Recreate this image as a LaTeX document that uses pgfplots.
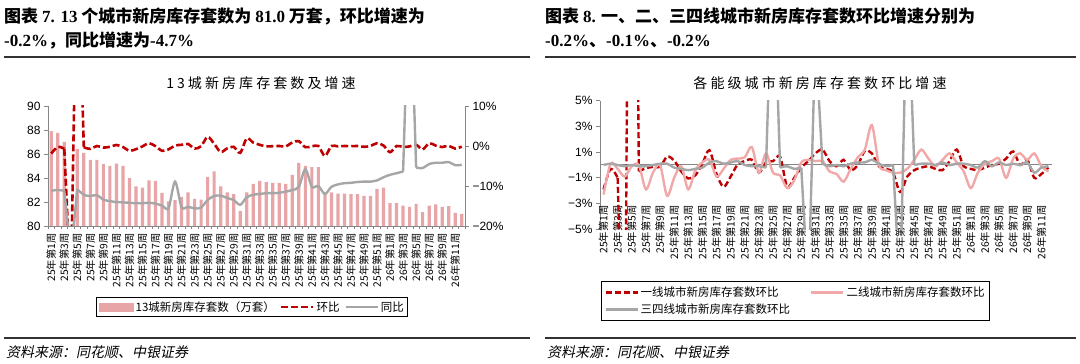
\documentclass[border=0pt]{standalone}
\usepackage{fontspec}
\usepackage{pgfplots}
\pgfplotsset{compat=1.18}
\setmainfont{Liberation Sans}
\newfontfamily\cjk{Noto Sans CJK SC}
\newfontfamily\cjkit[FakeSlant=0.2]{Noto Sans CJK SC}
\newfontfamily\cjksp[LetterSpace=22]{Noto Sans CJK SC}
\newfontfamily\tms{Liberation Serif}
\definecolor{barpink}{RGB}{232,165,167}
\definecolor{dred}{RGB}{192,0,0}
\definecolor{lgray}{RGB}{166,166,166}
\definecolor{pink2}{RGB}{240,168,168}
\definecolor{axgray}{RGB}{134,134,134}
\definecolor{rulegray}{RGB}{50,50,50}
\pgfplotsset{
  wk/.style={xtick={0,2,...,62},
    xticklabels={25年第1周,25年第3周,25年第5周,25年第7周,25年第9周,25年第11周,25年第13周,25年第15周,25年第17周,25年第19周,25年第21周,25年第23周,25年第25周,25年第27周,25年第29周,25年第31周,25年第33周,25年第35周,25年第37周,25年第39周,25年第41周,25年第43周,25年第45周,25年第47周,25年第49周,25年第51周,26年第1周,26年第3周,26年第5周,26年第7周,26年第9周,26年第11周},
    xticklabel style={rotate=90, anchor=east, font=\cjk\fontsize{10.3}{11}\selectfont},
    xtick style={draw=none}},
  lineleg/.style={legend image code/.code={\draw[##1] (0pt,0pt) -- (32pt,0pt);}},
}
\begin{document}
\begin{tikzpicture}[x=1pt,y=1pt]
\path[use as bounding box] (0,0) rectangle (1080,364);
% ---------- headings ----------
\node[anchor=west, inner sep=0] at (4,348) {\cjk\bfseries\fontsize{17}{20}\selectfont 图表 {\tms 7. 13} 个城市新房库存套数为 {\tms 81.0} 万套，环比增速为};
\node[anchor=west, inner sep=0] at (4,323) {\cjk\bfseries\fontsize{17}{20}\selectfont {\tms -0.2\%}，同比增速为{\tms -4.7\%}};
\node[anchor=west, inner sep=0] at (545,348) {\cjk\bfseries\fontsize{17}{20}\selectfont 图表 {\tms 8.} 一、二、三四线城市新房库存套数环比增速分别为};
\node[anchor=west, inner sep=0] at (545,323) {\cjk\bfseries\fontsize{17}{20}\selectfont {\tms -0.2\%}、{\tms -0.1\%}、{\tms -0.2\%}};
\draw[rulegray, line width=1.2pt] (4,307) -- (530,307);
\draw[rulegray, line width=1.2pt] (545,307) -- (1076,307);
\draw[rulegray, line width=1.2pt] (4,26) -- (530,26);
\draw[rulegray, line width=1.2pt] (545,26) -- (1076,26);
\node[anchor=west, inner sep=0] at (6,12) {\cjkit\fontsize{14}{16}\selectfont 资料来源：同花顺、中银证券};
\node[anchor=west, inner sep=0] at (547,12) {\cjkit\fontsize{14}{16}\selectfont 资料来源：同花顺、中银证券};
% ---------- chart titles ----------
\node at (261,281) {\cjksp\fontsize{14}{16}\selectfont 13城新房库存套数及增速};
\node at (820,281) {\cjksp\fontsize{14}{16}\selectfont 各能级城市新房库存套数环比增速};

% ---------- left chart: bars ----------
\begin{axis}[
  at={(48pt,138pt)}, anchor=south west, scale only axis,
  width=417pt, height=120pt,
  xmin=-0.5, xmax=63.5, ymin=80, ymax=90,
  axis y line*=left, axis x line*=bottom,
  axis line style={axgray, line width=0.8pt},
  ytick={80,82,...,90},
  /pgf/number format/assume math mode=true,
  yticklabel style={font=\fontsize{12}{14}\selectfont},
  ytick style={axgray, line width=0.8pt},
  tick align=outside, major tick length=4pt,
  wk,
  extra x ticks={-0.5,0.5,...,63.5}, extra x tick labels={},
  extra x tick style={xtick style={draw=axgray, line width=0.6pt}, major tick length=3pt},
]
\addplot[ybar, bar width=3.2pt, fill=barpink, draw=none] coordinates {
(0,87.9)(1,87.75)(2,87.0)(3,55.7)(4,86.4)(5,86.1)(6,85.5)(7,85.5)(8,85.15)(9,85.0)(10,85.2)(11,85.0)(12,84.0)(13,83.3)(14,83.2)(15,83.8)(16,83.75)(17,82.75)(18,82.05)(19,82.15)(20,82.4)(21,82.8)(22,82.25)(23,82.2)(24,84.1)(25,84.55)(26,83.3)(27,82.8)(28,82.65)(29,81.25)(30,82.8)(31,83.5)(32,83.75)(33,83.65)(34,83.6)(35,83.6)(36,83.5)(37,84.25)(38,85.25)(39,85.0)(40,84.9)(41,84.9)(42,82.8)(43,82.8)(44,82.7)(45,82.7)(46,82.65)(47,82.65)(48,82.5)(49,82.5)(50,83.1)(51,83.2)(52,81.9)(53,81.9)(54,81.7)(55,81.6)(56,81.85)(57,81.15)(58,81.7)(59,81.8)(60,81.6)(61,81.65)(62,81.1)(63,81.0)};
\end{axis}

% ---------- left chart: growth lines ----------
\begin{axis}[
  at={(48pt,138pt)}, anchor=south west, scale only axis,
  width=417pt, height=120pt,
  xmin=-0.5, xmax=63.5, ymin=-20, ymax=10,
  axis y line*=right, axis x line=none,
  axis line style={axgray, line width=0.8pt},
  ytick={-20,-10,0,10}, yticklabels={−20\%,−10\%,0\%,10\%},
  yticklabel style={font=\fontsize{12}{14}\selectfont},
  ytick style={axgray, line width=0.8pt},
  tick align=outside, major tick length=4pt,
  lineleg,
  legend style={at={(0.49,-0.675)}, anchor=center, draw=black, line width=0.9pt,
    font=\cjk\fontsize{11.5}{13}\selectfont, inner sep=2pt,
    /tikz/every even column/.append style={column sep=3pt}},
  legend columns=3,
]
\addlegendimage{legend image code/.code={\fill[barpink] (0pt,-4pt) rectangle (34pt,4pt);}}
\addlegendentry{13城新房库存套数（万套）}
% 环比
\addplot[dred, line width=2.6pt, dash pattern=on 7pt off 3pt, smooth] coordinates {(0,-1.9)(1,-0.2)(2,-0.7)};
\addlegendentry{环比}
\addplot[dred, line width=2.6pt, dash pattern=on 7pt off 3pt, forget plot] coordinates {(2,-0.7)(3,-36)(4,55)(5,-0.35)};
\addplot[dred, line width=2.6pt, dash pattern=on 7pt off 3pt, smooth, forget plot] coordinates {
(5,-0.35)(6,-0.7)(7,0.0)(8,-0.4)(9,-0.2)(10,0.25)(11,-0.25)(12,-1.2)(13,-0.8)(14,-0.1)(15,0.7)(16,-0.05)(17,-1.2)(18,-0.85)(19,0.1)(20,0.3)(21,0.5)(22,-0.65)(23,-0.05)(24,2.3)(25,0.55)(26,-1.5)(27,-0.6)(28,-0.2)(29,-1.7)(30,1.9)(31,0.85)(32,0.3)(33,-0.1)(34,-0.05)(35,0.0)(36,-0.1)(37,0.9)(38,1.2)(39,-0.3)(40,-0.1)(41,0.0)(42,-2.5)(43,0.0)(44,-0.1)(45,0.0)(46,-0.05)(47,0.0)(48,-0.2)(49,0.0)(50,0.7)(51,0.1)(52,-1.55)(53,0.0)(54,-0.25)(55,-0.1)(56,0.3)(57,-0.85)(58,0.7)(59,0.1)(60,-0.25)(61,0.05)(62,-0.65)(63,-0.15)};
% 同比
\addplot[lgray, line width=2.4pt, smooth] coordinates {(0,-11.2)(1,-11.0)(2,-11.2)};
\addlegendentry{同比}
\addplot[lgray, line width=2.4pt, forget plot] coordinates {(2,-11.2)(3,-27)(4,-10.8)};
\addplot[lgray, line width=2.4pt, smooth, forget plot] coordinates {
(4,-10.8)(5,-12.2)(6,-12.5)(7,-12.3)(8,-13.4)(9,-13.8)(10,-14.0)(11,-14.1)(12,-14.2)(13,-14.3)(14,-14.3)(15,-14.2)(16,-14.4)(17,-14.9)(18,-15.5)(19,-8.9)(20,-15.3)(21,-15.2)(22,-15.6)(23,-15.4)(24,-13.5)(25,-12.5)(26,-12.4)(27,-13.0)(28,-13.5)(29,-14.7)(30,-12.8)(31,-12.2)(32,-12.0)(33,-11.8)(34,-11.8)(35,-11.7)(36,-11.4)(37,-11.0)(38,-10.2)(39,-5.8)(40,-10.2)(41,-10.0)(42,-12.0)(43,-10.2)(44,-9.6)(45,-9.3)(46,-9.2)(47,-9.0)(48,-8.9)(49,-8.9)(50,-8.6)(51,-7.8)(52,-7.2)(53,-6.8)(54,-6.4)};
\addplot[lgray, line width=2.4pt, forget plot] coordinates {(54,-6.4)(55,47)(56,-5.4)};
\addplot[lgray, line width=2.4pt, smooth, forget plot] coordinates {(56,-5.4)(57,-5.5)(58,-4.5)(59,-4.2)(60,-4.2)(61,-4.0)(62,-4.8)(63,-4.7)};
\end{axis}

% ---------- right chart ----------
\begin{axis}[
  at={(600pt,134.7pt)}, anchor=south west, scale only axis,
  width=452pt, height=128.6pt,
  xmin=-0.5, xmax=63.5, ymin=-5, ymax=5,
  axis y line*=left, axis x line*=middle,
  axis line style={axgray, line width=1pt},
  ytick={-5,-3,...,5}, yticklabels={−5\%,−3\%,−1\%,1\%,3\%,5\%},
  yticklabel style={font=\fontsize{12}{14}\selectfont},
  ytick style={axgray, line width=0.8pt},
  tick align=outside, major tick length=4pt,
  wk, xticklabel shift=33pt,
  lineleg,
  legend style={at={(0.4325,-0.5575)}, anchor=center, draw=black, line width=0.9pt,
    font=\cjk\fontsize{11.5}{13}\selectfont, inner sep=3pt, row sep=2pt,
    /tikz/every even column/.append style={column sep=18pt}},
  legend columns=2, legend cell align=left,
]
% 一线
\addplot[dred, line width=2.4pt, dash pattern=on 6pt off 3pt, smooth] coordinates {(0,-1.9)(1,-0.3)(2,-1.0)};
\addlegendentry{一线城市新房库存套数环比}
\addplot[dred, line width=2.4pt, dash pattern=on 6pt off 3pt, forget plot] coordinates {(2,-1.0)(3,-21)(4,63)(5,-0.5)};
\addplot[dred, line width=2.4pt, dash pattern=on 6pt off 3pt, smooth, forget plot] coordinates {
(5,-0.5)(6,-0.25)(7,-0.15)(8,-0.15)(9,0.65)(10,0.35)(11,-0.5)(12,-1.05)(13,-0.8)(14,0.1)(15,1.15)(16,-0.7)(17,-1.7)(18,-0.9)(19,0.05)(20,0.3)(21,0.4)(22,-0.6)(23,0.2)(24,0.3)(25,0.65)(26,-1.7)(27,-1.0)(28,-0.2)(29,0.3)(30,0.9)(31,1.2)(32,0.3)(33,-0.1)(34,0.4)(35,-0.4)(36,0.0)(37,1.1)(38,0.9)(39,-0.1)(40,-0.3)(41,-0.6)(42,-2.1)(43,-0.9)(44,-0.4)(45,-0.2)(46,-0.1)(47,-0.3)(48,-0.4)(49,0.3)(50,1.2)(51,-0.1)(52,-0.3)(53,-0.4)(54,-0.2)(55,0.0)(56,0.1)(57,0.5)(58,1.05)(59,0.0)(60,0.4)(61,-1.0)(62,-0.7)(63,-0.2)};
% 二线
\addplot[pink2, line width=2.4pt, smooth] coordinates {
(0,-2.3)(1,0.1)(2,-0.3)(3,-0.9)(4,-0.1)(5,0.0)(6,-1.9)(7,-0.6)(8,0.0)(9,-2.4)(10,-1.0)(11,-0.1)(12,-1.9)(13,-0.4)(14,0.2)(15,0.4)(16,-0.9)(17,-0.3)(18,0.4)(19,0.5)(20,0.6)(21,1.4)(22,-0.6)(23,0.9)(24,-0.6)(25,-0.8)(26,-1.8)(27,-1.2)(28,0.2)(29,0.4)(30,0.3)(31,0.3)(32,-0.5)(33,-0.7)(34,-1.3)(35,-0.3)(36,0.6)(37,1.2)(38,3.1)(39,0.0)(40,-0.4)(41,-0.6)(42,-0.6)(43,-0.3)(44,0.4)(45,1.2)(46,0.5)(47,-0.1)(48,0.4)(49,0.9)(50,0.2)(51,-0.5)(52,-1.8)(53,-0.6)(54,0.1)(55,0.3)(56,0.5)(57,-1.0)(58,0.5)(59,0.9)(60,0.4)(61,0.9)(62,-0.1)(63,-0.5)};
\addlegendentry{二线城市新房库存套数环比}
% 三四线
\addplot[lgray, line width=2.4pt, smooth] coordinates {
(0,0.0)(1,0.1)(2,0.0)(3,-0.1)(4,0.0)(5,-0.1)(6,-0.1)(7,0.0)(8,0.1)(9,0.1)(10,-0.2)(11,-0.3)(12,-0.4)(13,-0.3)(14,-0.2)(15,0.2)(16,0.3)(17,0.1)(18,0.2)(19,0.3)(20,0.0)(21,-0.1)(22,-0.1)(23,-0.2)};
\addlegendentry{三四线城市新房库存套数环比}
\addplot[lgray, line width=2.4pt, forget plot] coordinates {(23,-0.2)(24,17)(25,-0.2)};
\addplot[lgray, line width=2.4pt, smooth, forget plot] coordinates {(25,-0.2)(26,-0.1)(27,-0.3)(28,-0.2)};
\addplot[lgray, line width=2.4pt, forget plot] coordinates {(28,-0.2)(29,-10)(30,10)(31,0.1)};
\addplot[lgray, line width=2.4pt, smooth, forget plot] coordinates {(31,0.1)(32,-0.1)(33,0.0)(34,-0.1)(35,0.1)(36,0.2)(37,0.2)(38,0.4)(39,0.1)(40,-0.1)(41,0.0)};
\addplot[lgray, line width=2.4pt, forget plot] coordinates {(41,0.0)(42,-10)(43,15)(44,0.0)};
\addplot[lgray, line width=2.4pt, smooth, forget plot] coordinates {(44,0.0)(45,0.1)(46,0.1)(47,0.0)(48,0.2)(49,0.0)(50,0.1)(51,0.1)(52,0.0)(53,-0.2)(54,0.3)(55,-0.1)(56,0.2)(57,0.0)(58,0.1)(59,0.0)(60,0.2)(61,-0.6)(62,-0.2)(63,-0.1)};
\end{axis}
\end{tikzpicture}
\end{document}
